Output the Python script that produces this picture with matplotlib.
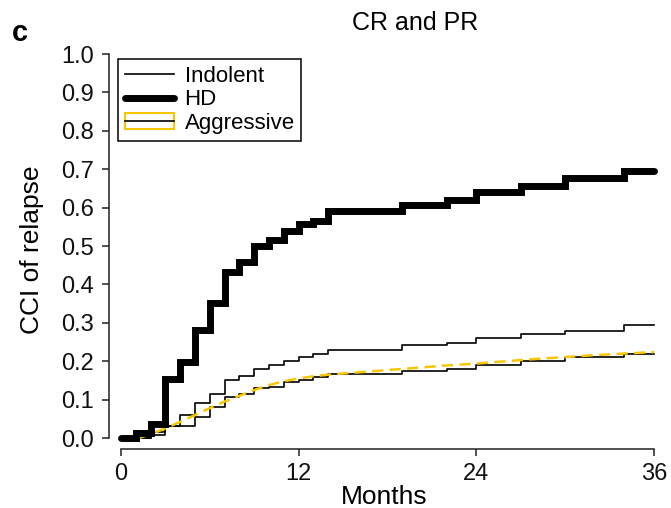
"""
Cumulative incidence of relapse after CR/PR for the indolent, HD and
aggressive groups, drawn as step curves plus a smoothed aggressive fit.
"""

import matplotlib.pyplot as plt
from matplotlib.lines import Line2D
from matplotlib.patches import Rectangle
from matplotlib.legend_handler import HandlerTuple

plt.rcParams['font.family'] = ['Liberation Sans', 'DejaVu Sans']

# HD (thick step curve)
hd_months = [0, 1, 2, 3, 4, 5, 6, 7, 8, 9, 10, 11, 12, 13, 14, 19, 22, 24, 27, 30, 34, 36]
hd_cci = [0.0, 0.012, 0.036, 0.153, 0.199, 0.281, 0.351, 0.433, 0.459, 0.500, 0.517,
          0.539, 0.557, 0.565, 0.591, 0.608, 0.621, 0.640, 0.657, 0.676, 0.695, 0.695]

# Indolent (thin step curve, upper)
ind_months = [0, 1, 2, 3, 4, 5, 6, 7, 8, 9, 10, 11, 12, 13, 14, 19, 22, 24, 27, 30, 34, 36]
ind_cci = [0.0, 0.0, 0.015, 0.031, 0.060, 0.090, 0.116, 0.151, 0.161, 0.179, 0.190,
           0.201, 0.210, 0.219, 0.230, 0.242, 0.247, 0.260, 0.271, 0.279, 0.294, 0.294]

# Aggressive (thin step curve, lower)
agg_months = [0, 1, 2, 3, 4, 5, 6, 7, 8, 9, 10, 11, 12, 13, 14, 19, 22, 24, 27, 30, 34, 36]
agg_cci = [0.0, 0.0, 0.008, 0.031, 0.031, 0.055, 0.080, 0.108, 0.116, 0.130, 0.134,
           0.147, 0.151, 0.158, 0.167, 0.175, 0.180, 0.190, 0.200, 0.210, 0.220, 0.220]

# Smoothed fit for the aggressive group (dashed yellow)
fit_months = [1.2, 2, 3, 4, 5, 6, 7, 8, 9, 10, 11, 12, 13, 14, 16, 18, 20, 22, 24,
              26, 28, 30, 32, 34, 36]
fit_cci = [0.0, 0.010, 0.025, 0.042, 0.060, 0.078, 0.095, 0.110, 0.125, 0.138, 0.148,
           0.155, 0.161, 0.165, 0.171, 0.177, 0.183, 0.189, 0.194, 0.200, 0.206, 0.211,
           0.216, 0.220, 0.224]

x_ticks = [0, 12, 24, 36]
y_ticks = [0.0, 0.1, 0.2, 0.3, 0.4, 0.5, 0.6, 0.7, 0.8, 0.9, 1.0]

GOLD = '#f7c600'


def main():
    fig = plt.figure(figsize=(6.71, 5.08), dpi=100)
    ax = fig.add_axes([0.1624, 0.1161, 0.8212, 0.785])

    ax.step(ind_months, ind_cci, where='post', color='black', lw=1.2)
    ax.step(agg_months, agg_cci, where='post', color='black', lw=1.2)
    ax.plot(fit_months, fit_cci, color=GOLD, lw=1.8, dashes=(4.5, 2.5))
    ax.step(hd_months, hd_cci, where='post', color='black', lw=5,
            solid_joinstyle='miter', solid_capstyle='round')

    ax.set_xlim(-0.81, 36.4)
    ax.set_ylim(-0.0286, 1.01)
    ax.set_xticks(x_ticks)
    ax.set_yticks(y_ticks)
    ax.set_yticklabels([f'{v:.1f}' for v in y_ticks])

    for side in ('top', 'right'):
        ax.spines[side].set_visible(False)
    ax.spines['left'].set_bounds(0, 1)
    ax.spines['bottom'].set_bounds(0, 36)
    for side in ('left', 'bottom'):
        ax.spines[side].set_linewidth(1.1)
        ax.spines[side].set_color('#222222')

    ax.tick_params(axis='both', direction='out', length=5, width=1.1,
                   color='#222222', labelsize=17, labelcolor='#111111')
    ax.tick_params(axis='y', pad=6)
    ax.tick_params(axis='x', pad=5)

    ax.set_xlabel('Months', fontsize=19, labelpad=0)
    ax.set_ylabel('CCI of relapse', fontsize=19, labelpad=12)

    fig.text(415 / 671, 1 - 23 / 508, 'CR and PR', ha='center', va='center', fontsize=18)
    fig.text(12 / 671, 1 - 33 / 508, 'c', ha='left', va='center', fontsize=21,
             fontweight='bold')

    h_ind = Line2D([], [], color='black', lw=1.2)
    h_hd = Line2D([], [], color='black', lw=5, solid_capstyle='round')
    h_box = Rectangle((0, 0), 1, 1, facecolor='white', edgecolor=GOLD, lw=1.5)
    h_agg = (h_box, Line2D([], [], color='black', lw=1.2))
    leg = ax.legend([h_ind, h_hd, h_agg], ['Indolent', 'HD', 'Aggressive'],
                    loc='upper left', bbox_to_anchor=(0.0163, 0.978),
                    borderaxespad=0, fontsize=16, handlelength=2.2,
                    handletextpad=0.5, labelspacing=0.12, borderpad=0.3,
                    fancybox=False, edgecolor='black',
                    handler_map={tuple: HandlerTuple(ndivide=1, pad=0)})
    leg.get_frame().set_linewidth(1.1)
    leg.get_frame().set_alpha(None)

    fig.savefig('out.png', dpi=100)


if __name__ == '__main__':
    main()
